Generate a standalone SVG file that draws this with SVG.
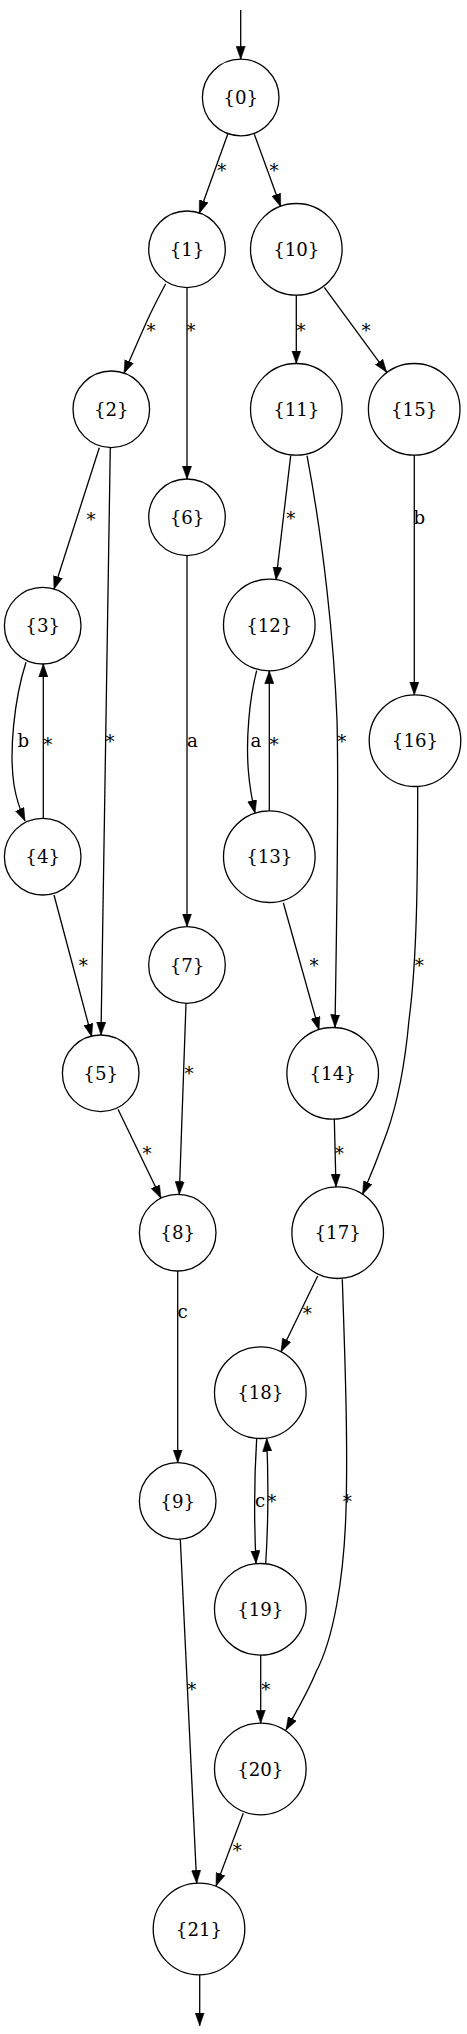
<svg xmlns="http://www.w3.org/2000/svg" width="467" height="2034" viewBox="0 0 467 2034">
<style>
.n circle{fill:none;stroke:#000;stroke-width:1.3}
text{font-family:"DejaVu Serif","Liberation Serif",serif;font-size:18.2px;text-anchor:middle;fill:#000}
.e path{fill:none;stroke:#000;stroke-width:1.3;marker-end:url(#ah)}
</style>
<defs>
<marker id="ah" markerUnits="userSpaceOnUse" markerWidth="14" markerHeight="10" refX="13" refY="4.6" orient="auto" viewBox="0 0 14 9.2">
<path d="M0,0 L13,4.6 L0,9.2 z" fill="#000" stroke="#000" stroke-width="0.5"/>
</marker>
</defs>
<rect width="467" height="2034" fill="#fff"/>
<g id="edges" class="e">
<path d="M240.7,10 L240.7,59.2"/>
<path d="M227.7,134.3 L199.3,213.3"/>
<path d="M254.3,134.3 L280.7,206.7"/>
<path d="M165.7,283.7 C157,300 151,312 146.5,322 C139,339 131,357 124,373.3"/>
<path d="M187,287.6 L187,479"/>
<path d="M296.3,295.1 L296.3,363.5"/>
<path d="M324.3,287.3 L386.7,372.3"/>
<path d="M99.3,447.7 L54,589.3"/>
<path d="M110.3,447.6 L101,1035"/>
<path d="M26,662.3 C14,700 9,752 14,785 C16,797 20,810 25,821"/>
<path d="M43.3,818.5 L43.3,664"/>
<path d="M187,555.6 L187,926.7"/>
<path d="M290.7,455.7 L276,580"/>
<path d="M307,455.7 C323,540 334,640 337,720 C339,800 337,900 335,1027.5"/>
<path d="M256.7,670.7 C249,700 246,740 248.3,770 C249.5,785 252,800 255,813.3"/>
<path d="M269.3,810.9 L269.3,670.8"/>
<path d="M414.3,455 L414.3,694.9"/>
<path d="M417.7,786.5 C417.7,880 417,960 409,1020 C404,1075 395,1110 386.7,1133.3 C380,1152 371,1175 362.6,1194.3"/>
<path d="M54,895 L91.7,1036.7"/>
<path d="M186,1003.3 L179.3,1194.4"/>
<path d="M118,1109.3 L161,1198.3"/>
<path d="M283.3,902.7 L319,1030"/>
<path d="M334.3,1119.1 L336,1186.9"/>
<path d="M177.7,1271 L177.7,1462.7"/>
<path d="M317.7,1276 L281,1351.7"/>
<path d="M342.3,1279.3 C345,1360 348,1440 346,1510 C344,1580 333,1640 316,1672 C308,1692 296,1712 286,1730"/>
<path d="M256.7,1438.4 C254,1480 254,1520 256,1563.5"/>
<path d="M265.7,1563.5 C268.5,1520 268.5,1480 266.7,1438.5"/>
<path d="M180.3,1539.3 L196.7,1883.3"/>
<path d="M260.7,1655.1 L260.7,1723.2"/>
<path d="M243.3,1813.3 L216,1886"/>
<path d="M199.7,1974.8 L199.7,2025.7"/>
</g>
<g id="edge-labels">
<text x="221.7" y="177.2">*</text>
<text x="274" y="177.2">*</text>
<text x="151" y="337.2">*</text>
<text x="191" y="337.2">*</text>
<text x="301" y="337.2">*</text>
<text x="366" y="337.2">*</text>
<text x="91" y="525.5">*</text>
<text x="290.7" y="524.5">*</text>
<text x="110" y="747.8">*</text>
<text x="47.7" y="750.5">*</text>
<text x="274" y="750.5">*</text>
<text x="341.7" y="747.8">*</text>
<text x="83.3" y="972.2">*</text>
<text x="314" y="972.2">*</text>
<text x="419.3" y="972.2">*</text>
<text x="189" y="1079.8">*</text>
<text x="147" y="1159.8">*</text>
<text x="339.3" y="1159.8">*</text>
<text x="307.3" y="1319.8">*</text>
<text x="347.3" y="1508.2">*</text>
<text x="271.7" y="1508.2">*</text>
<text x="191.7" y="1695.5">*</text>
<text x="265.7" y="1695.5">*</text>
<text x="237.3" y="1856.5">*</text>
<text x="23.3" y="746.5">b</text>
<text x="419.3" y="524">b</text>
<text x="192.3" y="746.5">a</text>
<text x="256" y="746.5">a</text>
<text x="182.7" y="1318">c</text>
<text x="260" y="1506.5">c</text>
</g>
<g id="n0" class="n"><circle cx="240.7" cy="97.5" r="38.3"/><text x="240.7" y="104">{0}</text></g>
<g id="n1" class="n"><circle cx="187" cy="249.3" r="38.3"/><text x="187" y="255.8">{1}</text></g>
<g id="n10" class="n"><circle cx="296.3" cy="249.3" r="45.8"/><text x="296.3" y="255.8">{10}</text></g>
<g id="n2" class="n"><circle cx="111.3" cy="409.3" r="38.3"/><text x="111.3" y="415.8">{2}</text></g>
<g id="n11" class="n"><circle cx="296.3" cy="409.3" r="45.8"/><text x="296.3" y="415.8">{11}</text></g>
<g id="n15" class="n"><circle cx="414.2" cy="409.3" r="45.8"/><text x="414.2" y="415.8">{15}</text></g>
<g id="n6" class="n"><circle cx="187" cy="517.3" r="38.3"/><text x="187" y="523.8">{6}</text></g>
<g id="n3" class="n"><circle cx="42.7" cy="625.7" r="38.3"/><text x="42.7" y="632.2">{3}</text></g>
<g id="n12" class="n"><circle cx="269.3" cy="625" r="45.8"/><text x="269.3" y="631.5">{12}</text></g>
<g id="n16" class="n"><circle cx="415" cy="740.7" r="45.8"/><text x="415" y="747.2">{16}</text></g>
<g id="n4" class="n"><circle cx="42.7" cy="856.7" r="38.3"/><text x="42.7" y="863.2">{4}</text></g>
<g id="n13" class="n"><circle cx="269.3" cy="856.7" r="45.8"/><text x="269.3" y="863.2">{13}</text></g>
<g id="n7" class="n"><circle cx="187" cy="965" r="38.3"/><text x="187" y="971.5">{7}</text></g>
<g id="n5" class="n"><circle cx="100.7" cy="1073.3" r="38.3"/><text x="100.7" y="1079.8">{5}</text></g>
<g id="n14" class="n"><circle cx="332.7" cy="1073.3" r="45.8"/><text x="332.7" y="1079.8">{14}</text></g>
<g id="n8" class="n"><circle cx="177.7" cy="1232.7" r="38.3"/><text x="177.7" y="1239.2">{8}</text></g>
<g id="n17" class="n"><circle cx="337.7" cy="1232.7" r="45.8"/><text x="337.7" y="1239.2">{17}</text></g>
<g id="n18" class="n"><circle cx="260.3" cy="1392.7" r="45.8"/><text x="260.3" y="1399.2">{18}</text></g>
<g id="n9" class="n"><circle cx="177.7" cy="1501" r="38.3"/><text x="177.7" y="1507.5">{9}</text></g>
<g id="n19" class="n"><circle cx="260.3" cy="1609.3" r="45.8"/><text x="260.3" y="1615.8">{19}</text></g>
<g id="n20" class="n"><circle cx="260.3" cy="1769" r="45.8"/><text x="260.3" y="1775.5">{20}</text></g>
<g id="n21" class="n"><circle cx="199" cy="1929" r="45.8"/><text x="199" y="1935.5">{21}</text></g>
</svg>
